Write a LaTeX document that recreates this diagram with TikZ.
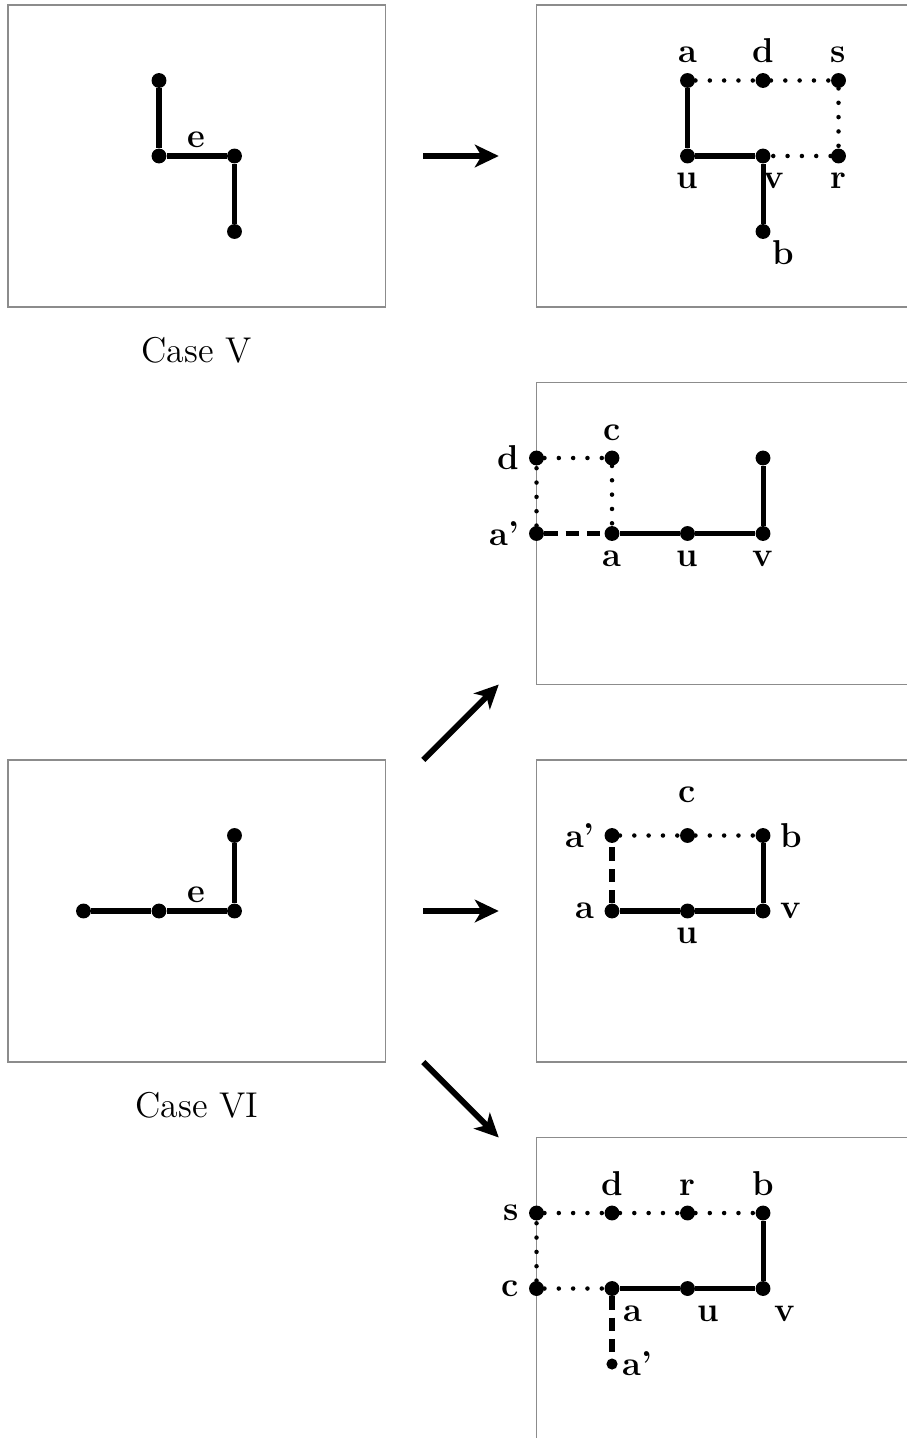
\documentclass[tikz,border=0pt]{standalone}
\usepackage{amsmath}
\usetikzlibrary{arrows.meta}
\tikzset{
  vtx/.style={circle,fill=black,inner sep=0pt,minimum size=5.6pt},
  frame/.style={draw=black!45,line width=0.6pt},
  sol/.style={line width=1.9pt},
  dots/.style={line width=1.7pt,line cap=round,dash pattern=on 0pt off 5.4pt},
  dsh/.style={line width=2pt,dash pattern=on 5pt off 3pt},
  bigarrow/.style={line width=2.2pt,-{Stealth[length=9pt,width=8.5pt,inset=2.5pt]}},
  lbl/.style={font=\fontsize{13}{15}\selectfont\bfseries},
  casetext/.style={font=\fontsize{13.5}{16}\selectfont}
}

\begin{document}
\begin{tikzpicture}
\useasboundingbox (-0.106,0.066) rectangle (11.894,-18.98);

\draw[frame] (0,0) rectangle (5,-4);
\node[casetext] (caseV) at (2.5,-4.57) {Case V};
\node[vtx] (t1) at (2,-1) {};
\node[vtx] (u1) at (2,-2) {};
\node[vtx] (v1) at (3,-2) {};
\node[vtx] (w1) at (3,-3) {};
\draw[sol] (t1) -- (u1) -- node[lbl,above,inner sep=2pt] (e1) {e} (v1) -- (w1);

\coordinate (s1) at (5.5,-2);
\coordinate (f1) at (6.5,-2);
\draw[bigarrow] (s1) -- (f1);

\begin{scope}[shift={(7,0)}]
\draw[frame] (5,0) -- (0,0) -- (0,-4) -- (5,-4);
\node[vtx,label={[lbl]above:a}] (a2) at (2,-1) {};
\node[vtx,label={[lbl]above:d}] (d2) at (3,-1) {};
\node[vtx,label={[lbl]above:s}] (s2) at (4,-1) {};
\node[vtx,label={[lbl]below:u}] (u2) at (2,-2) {};
\node[vtx,label={[lbl,xshift=4pt]below:v}] (v2) at (3,-2) {};
\node[vtx,label={[lbl]below:r}] (r2) at (4,-2) {};
\node[vtx,label={[lbl,label distance=-3pt]-60:b}] (b2) at (3,-3) {};
\draw[sol] (a2) -- (u2) -- (v2) -- (b2);
\draw[dots] (a2) -- (d2) -- (s2) -- (r2) -- (v2);
\end{scope}

\begin{scope}[shift={(7,-5)}]
\draw[frame] (5,0) -- (0,0) -- (0,-4) -- (5,-4);
\node[vtx,label={[lbl]left:d}] (d3) at (0,-1) {};
\node[vtx,label={[lbl]above:c}] (c3) at (1,-1) {};
\node[vtx] (t3) at (3,-1) {};
\node[vtx,label={[lbl]left:a'}] (ap3) at (0,-2) {};
\node[vtx,label={[lbl]below:a}] (a3) at (1,-2) {};
\node[vtx,label={[lbl]below:u}] (u3) at (2,-2) {};
\node[vtx,label={[lbl]below:v}] (v3) at (3,-2) {};
\draw[sol] (a3) -- (u3) -- (v3) -- (t3);
\draw[dots] (ap3) -- (d3) -- (c3) -- (a3);
\draw[dsh] (ap3) -- (a3);
\end{scope}

\draw[frame] (0,-10) rectangle (5,-14);
\node[casetext] (caseVI) at (2.5,-14.57) {Case VI};
\node[vtx] (p4) at (1,-12) {};
\node[vtx] (q4) at (2,-12) {};
\node[vtx] (v4) at (3,-12) {};
\node[vtx] (t4) at (3,-11) {};
\draw[sol] (p4) -- (q4) -- node[lbl,above,inner sep=2pt] (e4) {e} (v4) -- (t4);

\coordinate (s4) at (5.5,-10);
\coordinate (f4) at (6.5,-9);
\coordinate (s5) at (5.5,-12);
\coordinate (f5) at (6.5,-12);
\coordinate (s6) at (5.5,-14);
\coordinate (f6) at (6.5,-15);
\draw[bigarrow] (s4) -- (f4);
\draw[bigarrow] (s5) -- (f5);
\draw[bigarrow] (s6) -- (f6);

\begin{scope}[shift={(7,-10)}]
\draw[frame] (5,0) -- (0,0) -- (0,-4) -- (5,-4);
\node[vtx,label={[lbl]left:a'}] (ap5) at (1,-1) {};
\node[vtx,label={[lbl,label distance=6pt]above:c}] (c5) at (2,-1) {};
\node[vtx,label={[lbl]right:b}] (b5) at (3,-1) {};
\node[vtx,label={[lbl]left:a}] (a5) at (1,-2) {};
\node[vtx,label={[lbl]below:u}] (u5) at (2,-2) {};
\node[vtx,label={[lbl]right:v}] (v5) at (3,-2) {};
\draw[sol] (a5) -- (u5) -- (v5) -- (b5);
\draw[dots] (ap5) -- (c5) -- (b5);
\draw[dsh] (a5) -- (ap5);
\end{scope}

\begin{scope}[shift={(7,-15)}]
\draw[frame] (5,0) -- (0,0) -- (0,-4.2);
\node[vtx,label={[lbl]left:s}] (s6) at (0,-1) {};
\node[vtx,label={[lbl]above:d}] (d6) at (1,-1) {};
\node[vtx,label={[lbl]above:r}] (r6) at (2,-1) {};
\node[vtx,label={[lbl]above:b}] (b6) at (3,-1) {};
\node[vtx,label={[lbl]left:c}] (c6) at (0,-2) {};
\node[vtx,label={[lbl,xshift=8pt]below:a}] (a6) at (1,-2) {};
\node[vtx,label={[lbl,xshift=8pt]below:u}] (u6) at (2,-2) {};
\node[vtx,label={[lbl,xshift=8pt]below:v}] (v6) at (3,-2) {};
\node[vtx,minimum size=4.2pt,label={[lbl,label distance=-2pt]right:a'}] (ap6) at (1,-3) {};
\draw[sol] (a6) -- (u6) -- (v6) -- (b6);
\draw[dots] (c6) -- (s6) -- (d6) -- (r6) -- (b6);
\draw[dots] (c6) -- (a6);
\draw[dsh] (a6) -- (ap6);
\end{scope}
\end{tikzpicture}
\end{document}
